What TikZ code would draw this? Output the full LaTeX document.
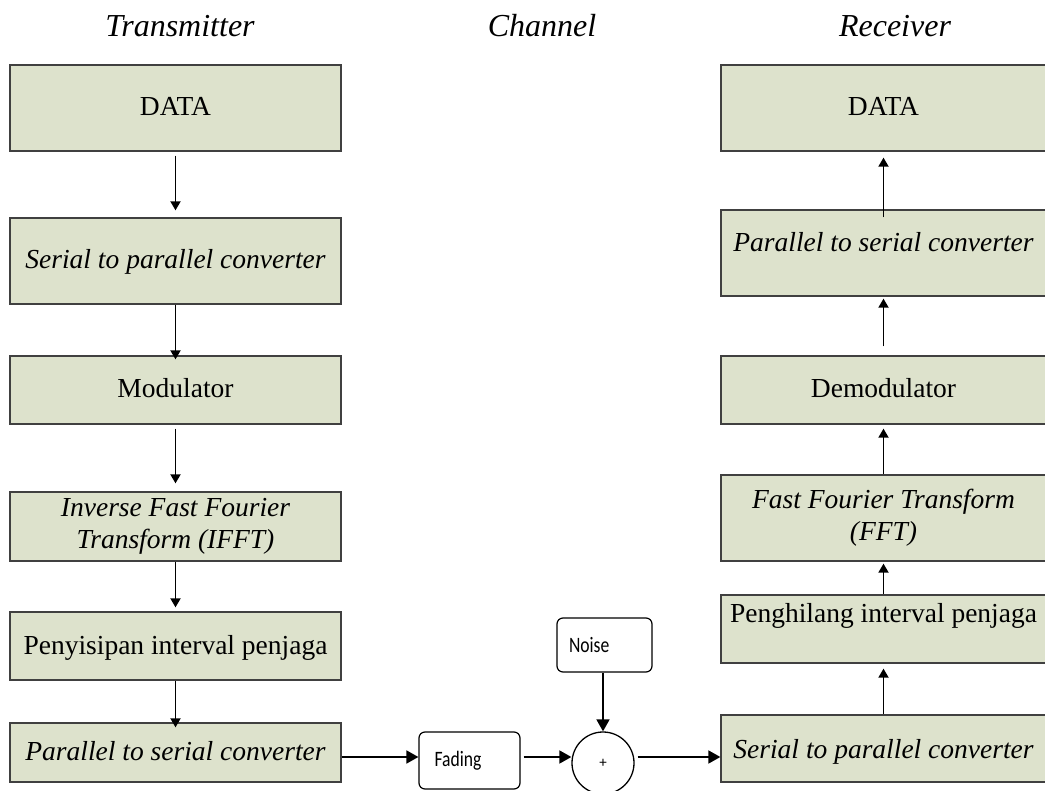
\documentclass[tikz,border=0pt]{standalone}
\usepackage{fontspec}
\setmainfont{Liberation Serif}
\newfontfamily\labelsans{Carlito}
\usetikzlibrary{arrows.meta}
\definecolor{boxfill}{RGB}{221,226,204}
\definecolor{boxline}{RGB}{64,64,64}
% narrow sans labels used inside the channel blocks
\newcommand{\narrowtext}[1]{\scalebox{0.8}[1]{#1}}
\begin{document}
\begin{tikzpicture}[x=1pt,y=-1pt,
  block/.style={draw=boxline, line width=1.3pt, fill=boxfill, inner sep=2pt,
    font=\fontsize{27.5}{32}\selectfont},
  oneline/.style={block, text height=22pt, text depth=6pt},
  leftcol/.style={minimum width=331pt},
  rightcol/.style={minimum width=325pt},
  title/.style={anchor=base, font=\fontsize{32}{35}\selectfont\itshape},
  chanbox/.style={draw=black, line width=1.2pt, rounded corners=6pt, fill=white,
    inner sep=0pt, align=left, font=\labelsans\fontsize{22}{24}\selectfont},
  link/.style={line width=1.8pt, -{Triangle[length=9pt,width=10pt]}},
  flow/.style={line width=1.8pt, -{Triangle[length=12pt,width=13pt]}}
]
\useasboundingbox (0,0) rectangle (1045,791);

% column headings
\node[title] (ttx) at (180,37) {Transmitter};
\node[title] (tch) at (542,37) {Channel};
\node[title] (trx) at (895,37) {Receiver};

% transmitter chain
\node[oneline, leftcol, minimum height=86pt] (tD) at (175.5,108) {DATA};
\node[oneline, leftcol, minimum height=86pt] (tSP) at (175.5,261) {\itshape Serial to parallel converter};
\node[oneline, leftcol, minimum height=68pt] (tMod) at (175.5,390) {Modulator};
\node[block, leftcol, minimum height=69pt] (tIF) at (175.5,526.5)
  {\itshape\begin{tabular}{@{}c@{}}Inverse Fast Fourier\\Transform (IFFT)\end{tabular}};
\node[oneline, leftcol, minimum height=68pt] (tPen) at (175.5,646) {Penyisipan interval penjaga};
\node[oneline, leftcol, minimum height=59pt] (tPS) at (175.5,752.5) {\itshape Parallel to serial converter};

% receiver chain
\node[oneline, rightcol, minimum height=86pt] (rD) at (883.5,108) {DATA};
\node[oneline, rightcol, minimum height=86pt, text depth=24pt] (rPS) at (883.5,253) {\itshape Parallel to serial converter};
\node[oneline, rightcol, minimum height=68pt] (rDem) at (883.5,390) {Demodulator};
\node[block, rightcol, minimum height=86pt] (rFFT) at (883.5,518)
  {\raisebox{9pt}{\itshape\begin{tabular}{@{}c@{}}Fast Fourier Transform\\(FFT)\end{tabular}}};
\node[oneline, rightcol, minimum height=68pt, text depth=36pt] (rPen) at (883.5,629) {Penghilang interval penjaga};
\node[oneline, rightcol, minimum height=67pt, text depth=3pt] (rSP) at (883.5,748.5) {\itshape Serial to parallel converter};

% channel
\node[chanbox, minimum width=101pt, minimum height=57pt, text width=70pt] (fad) at (469.5,760.5) {\narrowtext{Fading}};
\node[chanbox, minimum width=95pt, minimum height=54pt, text width=71pt] (noise) at (604.5,645) {\narrowtext{Noise}};
\node[circle, draw=black, line width=1.3pt, fill=white, minimum size=62pt, inner sep=0pt,
  font=\labelsans\fontsize{15}{16}\selectfont] (sum) at (603,763) {\raisebox{-3pt}{+}};
\coordinate (row) at (0,757);

% transmitter arrows
\draw[link, shorten <=4pt, shorten >=7pt] (tD.south) -- (tSP.north);
\draw[link, shorten >=-4pt] (tSP.south) -- (tMod.north);
\draw[link, shorten <=4pt, shorten >=8pt] (tMod.south) -- (tIF.north);
\draw[link, shorten >=4pt] (tIF.south) -- (tPen.north);
\draw[link, shorten >=-5pt] (tPen.south) -- (tPS.north);

% receiver arrows
\draw[link, shorten <=-8pt, shorten >=6pt] (rPS.north) -- (rD.south);
\draw[link, shorten <=9pt, shorten >=2pt] (rDem.north) -- (rPS.south);
\draw[link, shorten >=4pt] (rFFT.north) -- (rDem.south);
\draw[link, shorten >=2pt] (rPen.north) -- (rFFT.south);
\draw[link, shorten >=5pt] (rSP.north) -- (rPen.south);

% channel arrows
\draw[flow] (tPS.east |- row) -- (fad.west |- row);
\draw[flow, shorten <=3pt] (fad.east |- row) -- (sum.west |- row);
\draw[flow, shorten <=3pt] (sum.east |- row) -- (rSP.west |- row);
\draw[flow] (noise.south -| sum.north) -- (sum.north);
\end{tikzpicture}
\end{document}
